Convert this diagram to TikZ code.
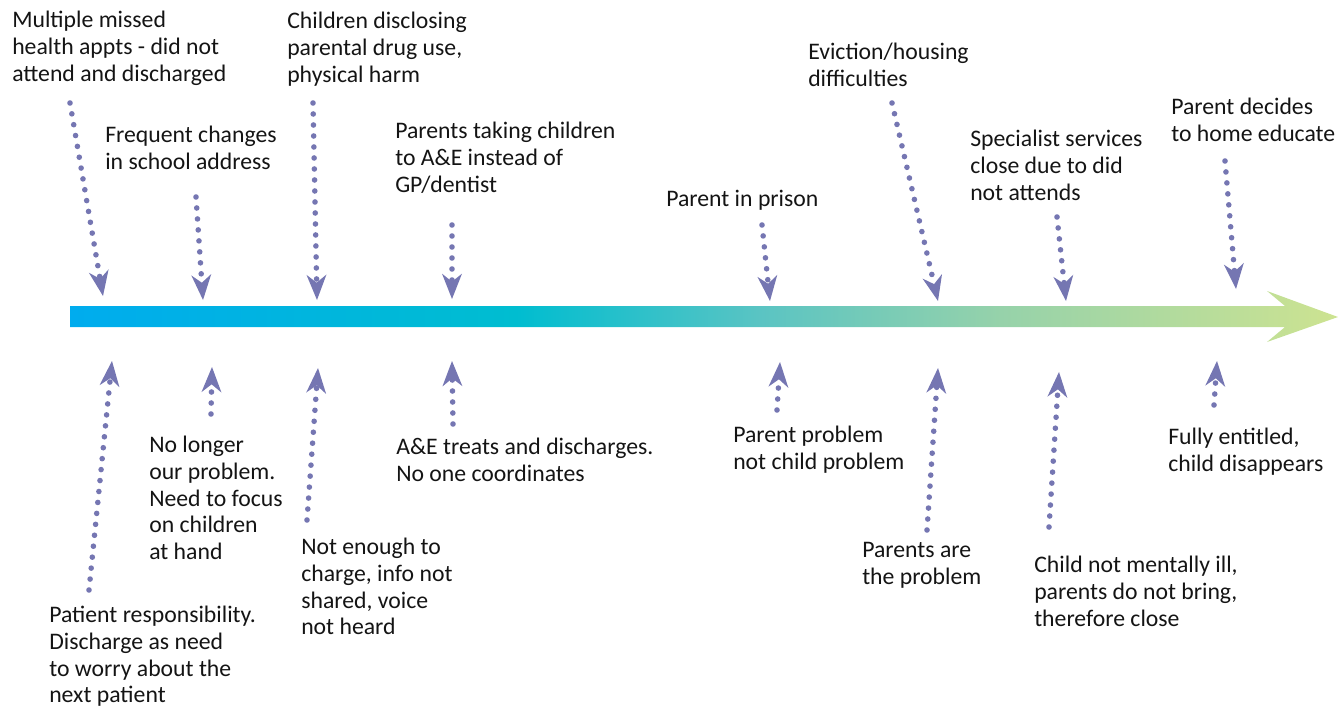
\documentclass[tikz,border=0pt]{standalone}
\usepackage{fontspec}
\setmainfont{Carlito}
\usetikzlibrary{arrows.meta}

\definecolor{dotblue}{RGB}{117,118,178}
\definecolor{textgrey}{RGB}{20,20,20}
\definecolor{tl1}{RGB}{0,172,238}
\definecolor{tl2}{RGB}{0,189,208}
\definecolor{tl3}{RGB}{90,196,195}
\definecolor{tl4}{RGB}{150,210,170}
\definecolor{tl5}{RGB}{205,227,145}
\pgfdeclarehorizontalshading{timeline}{100bp}{color(0bp)=(tl1); color(25bp)=(tl1); color(42.6bp)=(tl2); color(52.2bp)=(tl3); color(61.7bp)=(tl4); color(75bp)=(tl5); color(100bp)=(tl5)}

\tikzset{
  lbl/.style={anchor=north west, inner sep=0pt, align=left, text=textgrey,
    font=\fontsize{17.8}{20}\selectfont},
  hint/.style={draw=dotblue, line width=4.2pt, line cap=round,
    dash pattern=on 0pt off 8.25pt,
    -{Stealth[length=19pt,width=15pt,inset=6pt,line width=0pt,fill=dotblue]}}
}

\begin{document}
\begin{tikzpicture}[x=0.75pt,y=-0.75pt]
      \useasboundingbox (0,0) rectangle (1338,706);

      \shade[shading=timeline] (70,306) -- (1285,306) -- (1267,291) -- (1338,317)
        -- (1267,342) -- (1285,327) -- (70,327) -- cycle;

      % labels above the line
      \node[lbl] (l1) at (12,11) {Multiple missed\\health appts - did not\\attend and discharged};
      \node[lbl] (l2) at (105,126) {Frequent changes\\in school address};
      \node[lbl] (l3) at (287,12) {Children disclosing\\parental drug use,\\physical harm};
      \node[lbl] (l4) at (395,122) {Parents taking children\\to A\&E instead of\\GP/dentist};
      \node[lbl] (l5) at (666,190) {Parent in prison};
      \node[lbl] (l6) at (808,43) {Eviction/housing\\difficulties};
      \node[lbl] (l7) at (970,130) {Specialist services\\close due to did\\not attends};
      \node[lbl] (l8) at (1171,98) {Parent decides\\to home educate};

      % labels below the line
      \node[lbl] (l9) at (49,606) {Patient responsibility.\\Discharge as need\\to worry about the\\next patient};
      \node[lbl] (l10) at (149,436) {No longer\\our problem.\\Need to focus\\on children\\at hand};
      \node[lbl] (l11) at (301,538) {Not enough to\\charge, info not\\shared, voice\\not heard};
      \node[lbl] (l12) at (396,438) {A\&E treats and discharges.\\No one coordinates};
      \node[lbl] (l13) at (733,426) {Parent problem\\not child problem};
      \node[lbl] (l14) at (862,542) {Parents are\\the problem};
      \node[lbl] (l15) at (1034,556) {Child not mentally ill,\\parents do not bring,\\therefore close};
      \node[lbl] (l16) at (1168,428) {Fully entitled,\\child disappears};

      \coordinate (s1) at (70,103);   \coordinate (t1) at (103,296);
      \coordinate (s2) at (196,197);  \coordinate (t2) at (203,300);
      \coordinate (s3) at (313,103);  \coordinate (t3) at (317,300);
      \coordinate (s4) at (452,225);  \coordinate (t4) at (452,299);
      \coordinate (s5) at (762,225);  \coordinate (t5) at (770,301);
      \coordinate (s6) at (892,103);  \coordinate (t6) at (938,301);
      \coordinate (s7) at (1057,217); \coordinate (t7) at (1066,301);
      \coordinate (s8) at (1225,161); \coordinate (t8) at (1236,289);

      \coordinate (u1) at (89,590);   \coordinate (v1) at (112,361);
      \coordinate (u2) at (211,414);  \coordinate (v2) at (212,367);
      \coordinate (u3) at (307,520);  \coordinate (v3) at (318,368);
      \coordinate (u4) at (453,424);  \coordinate (v4) at (452,361);
      \coordinate (u5) at (777,410);  \coordinate (v5) at (780,362);
      \coordinate (u6) at (927,530);  \coordinate (v6) at (938,368);
      \coordinate (u7) at (1049,527); \coordinate (v7) at (1059,372);
      \coordinate (u8) at (1214,405); \coordinate (v8) at (1217,361);

      \draw[hint] (s1) -- (t1);
      \draw[hint] (s2) -- (t2);
      \draw[hint] (s3) -- (t3);
      \draw[hint] (s4) -- (t4);
      \draw[hint] (s5) -- (t5);
      \draw[hint] (s6) -- (t6);
      \draw[hint] (s7) -- (t7);
      \draw[hint] (s8) -- (t8);

      \draw[hint] (u1) -- (v1);
      \draw[hint] (u2) -- (v2);
      \draw[hint] (u3) -- (v3);
      \draw[hint] (u4) -- (v4);
      \draw[hint] (u5) -- (v5);
      \draw[hint] (u6) -- (v6);
      \draw[hint] (u7) -- (v7);
      \draw[hint] (u8) -- (v8);
    \end{tikzpicture}
\end{document}
